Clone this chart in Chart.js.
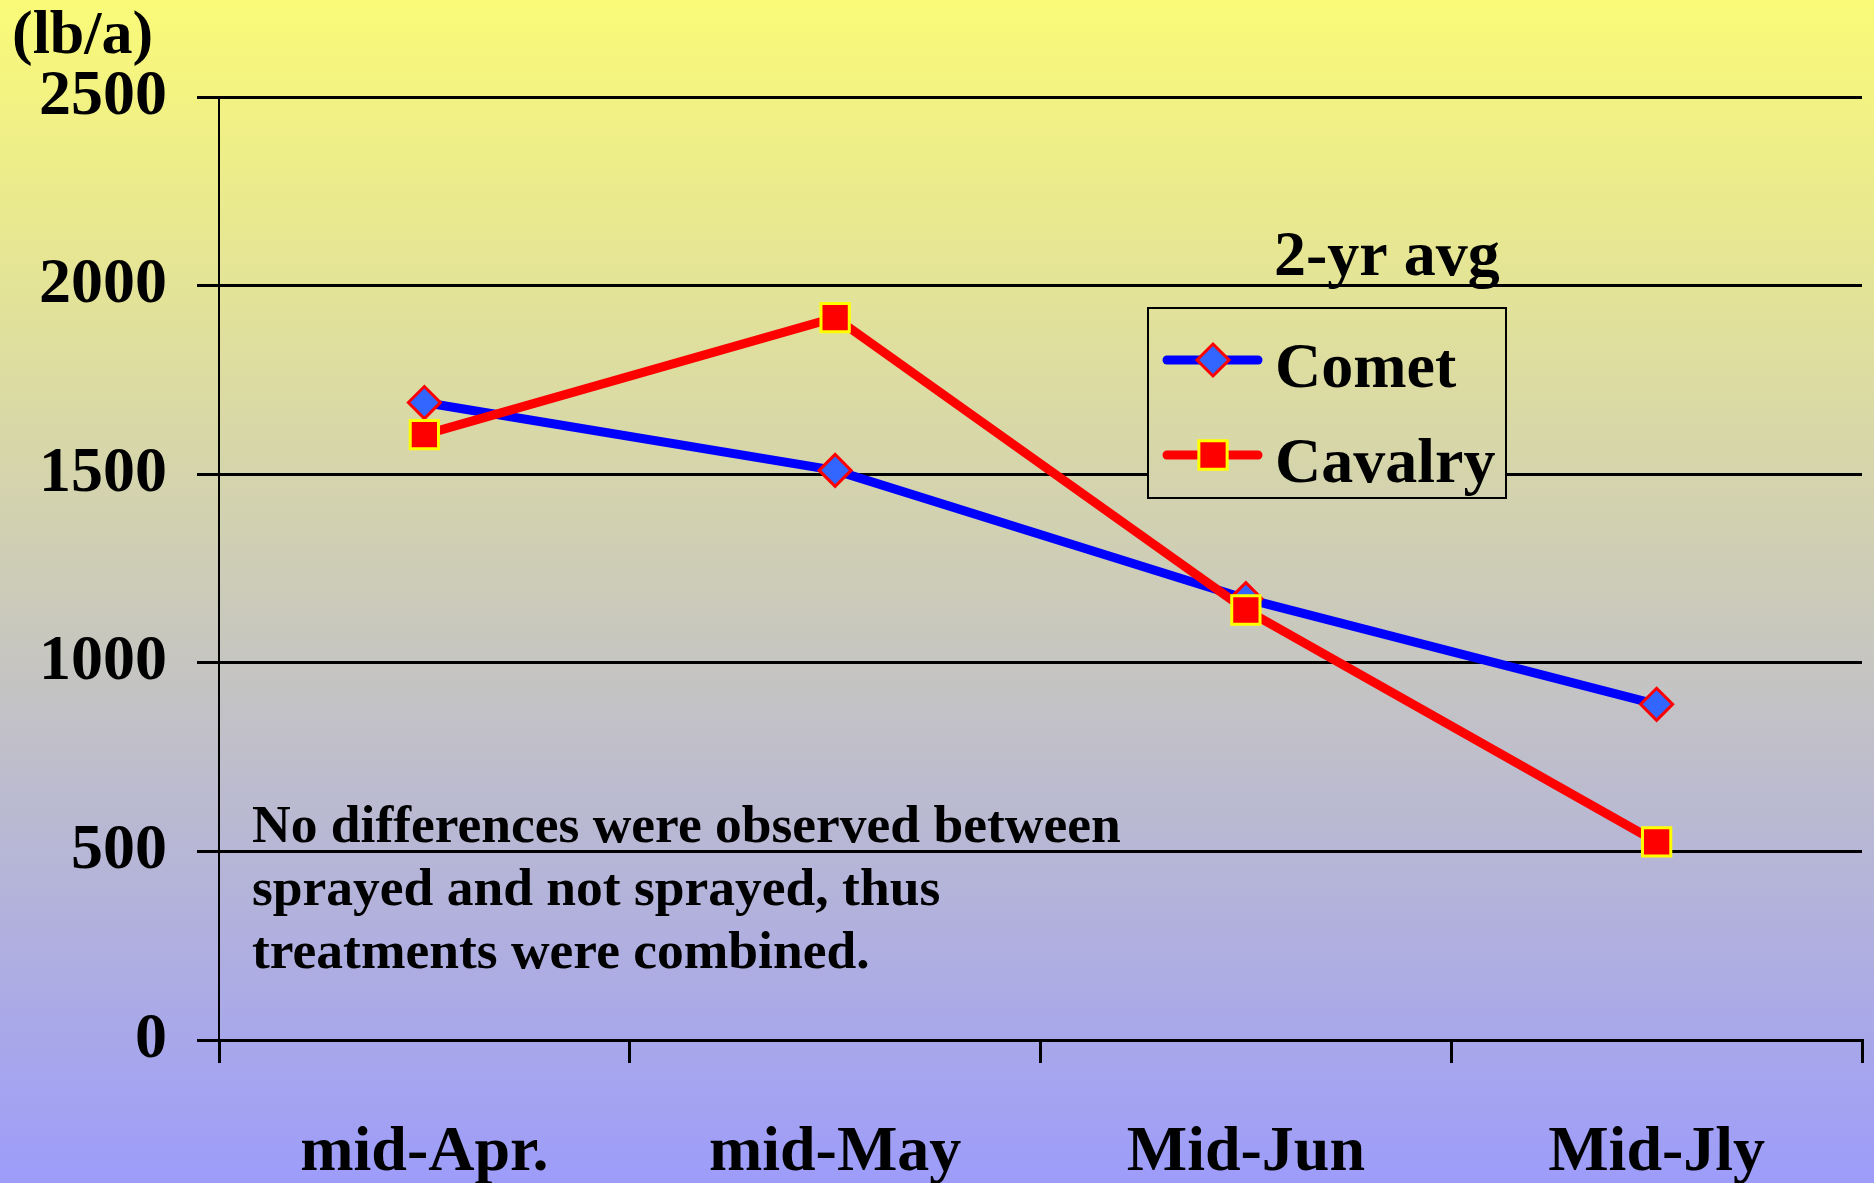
<!DOCTYPE html>
<html>
<head>
<meta charset="utf-8">
<script src="https://cdn.jsdelivr.net/npm/chart.js@4.4.0/dist/chart.umd.min.js"></script>
<style>
  html, body { margin: 0; padding: 0; }
  #wrap { width: 1874px; height: 1183px; position: relative; }
</style>
</head>
<body>
<div id="wrap"><canvas id="chartYield"></canvas></div>
<script>
// dados
const periodos = ["mid-Apr.", "mid-May", "Mid-Jun", "Mid-Jly"];
const comet = [1690, 1510, 1170, 890];
const cavalry = [1605, 1915, 1140, 525];
const yTicks = [0, 500, 1000, 1500, 2000, 2500];
const unidade = "(lb/a)";
const tituloLegenda = "2-yr avg";
const nota = [
    "No differences were observed between",
    "sprayed and not sprayed, thus",
    "treatments were combined."
];

const FONTE = "'Liberation Serif', 'Times New Roman', serif";

function fundo(ctx, h) {
    const g = ctx.createLinearGradient(0, 0, 0, h);
    g.addColorStop(0, "#fafa78");
    g.addColorStop(1, "#9d9cfa");
    return g;
}

// fundo em degradê amarelo -> azul
const pluginFundo = {
    id: "fundo",
    beforeDraw(chart) {
        const ctx = chart.ctx;
        ctx.save();
        ctx.fillStyle = fundo(ctx, chart.height);
        ctx.fillRect(0, 0, chart.width, chart.height);
        ctx.restore();
    }
};

// textos soltos + legenda desenhada à mão
const pluginTextos = {
    id: "textos",
    afterDraw(chart) {
        const ctx = chart.ctx;
        const area = chart.chartArea;
        ctx.save();
        ctx.fillStyle = "#000";
        ctx.textBaseline = "alphabetic";
        ctx.textAlign = "left";

        ctx.font = "bold 62px " + FONTE;
        ctx.fillText(unidade, 12, 53);

        ctx.font = "bold 53.5px " + FONTE;
        nota.forEach((linha, i) => {
            ctx.fillText(linha, area.left + 33, 842 + i * 63);
        });

        ctx.font = "bold 64px " + FONTE;
        ctx.fillText(tituloLegenda, 1274, 275);

        // caixa da legenda (esconde as linhas de grade)
        const bx = 1148, by = 308, bw = 358, bh = 190;
        ctx.fillStyle = fundo(ctx, chart.height);
        ctx.fillRect(bx, by, bw, bh);
        ctx.strokeStyle = "#000";
        ctx.lineWidth = 2;
        ctx.strokeRect(bx, by, bw, bh);

        chart.data.datasets.forEach((ds, i) => {
            const y = 360 + i * 95;
            ctx.strokeStyle = ds.borderColor;
            ctx.lineWidth = ds.borderWidth;
            ctx.lineCap = "round";
            ctx.beginPath();
            ctx.moveTo(1167, y);
            ctx.lineTo(1258, y);
            ctx.stroke();

            const cx = 1213;
            ctx.fillStyle = ds.pointBackgroundColor;
            ctx.strokeStyle = ds.pointBorderColor;
            ctx.lineWidth = ds.pointBorderWidth;
            ctx.beginPath();
            if (ds.pointStyle === "rectRot") {
                const r = ds.pointRadius;
                ctx.moveTo(cx - r, y);
                ctx.lineTo(cx, y - r);
                ctx.lineTo(cx + r, y);
                ctx.lineTo(cx, y + r);
                ctx.closePath();
            } else {
                const s = ds.pointRadius * Math.SQRT1_2;
                ctx.rect(cx - s, y - s, 2 * s, 2 * s);
            }
            ctx.fill();
            ctx.stroke();

            ctx.fillStyle = "#000";
            ctx.font = "bold 64px " + FONTE;
            ctx.fillText(ds.label, 1275, y + 27);
        });
        ctx.restore();
    }
};

new Chart(document.getElementById("chartYield"), {
    type: "line",
    data: {
        labels: periodos,
        datasets: [
            {
                label: "Comet",
                data: comet,
                borderColor: "#0000ff",
                borderWidth: 9,
                pointStyle: "rectRot",
                pointRadius: 16,
                pointBackgroundColor: "#3366ff",
                pointBorderColor: "#ff0000",
                pointBorderWidth: 3,
                order: 2
            },
            {
                label: "Cavalry",
                data: cavalry,
                borderColor: "#ff0000",
                borderWidth: 9,
                pointStyle: "rect",
                pointRadius: 20,
                pointBackgroundColor: "#ff0000",
                pointBorderColor: "#ffff00",
                pointBorderWidth: 3,
                order: 1
            }
        ]
    },
    options: {
        responsive: true,
        maintainAspectRatio: false,
        animation: false,
        layout: { autoPadding: false, padding: { top: 97, right: 12, left: 0, bottom: 0 } },
        plugins: {
            legend: { display: false },
            tooltip: { enabled: false }
        },
        scales: {
            x: {
                offset: true,
                grid: {
                    offset: true,
                    drawOnChartArea: false,
                    drawTicks: true,
                    tickLength: 23,
                    color: "#000",
                    lineWidth: 3
                },
                border: { color: "#000", width: 3 },
                ticks: {
                    color: "#000",
                    font: { family: FONTE, size: 64, weight: "bold" },
                    padding: 52,
                    maxRotation: 0
                },
                afterFit(scale) { scale.height = 143; }
            },
            y: {
                min: 0,
                max: 2500,
                afterBuildTicks(scale) {
                    scale.ticks = yTicks.map(v => ({ value: v }));
                },
                grid: {
                    color: "#000",
                    lineWidth: 3,
                    drawTicks: true,
                    tickLength: 22
                },
                border: { color: "#000", width: 2 },
                ticks: {
                    color: "#000",
                    font: { family: FONTE, size: 64, weight: "bold" },
                    padding: 30,
                    callback: v => String(v)
                },
                afterFit(scale) { scale.width = 219; }
            }
        }
    },
    plugins: [pluginFundo, pluginTextos]
});
</script>
</body>
</html>
